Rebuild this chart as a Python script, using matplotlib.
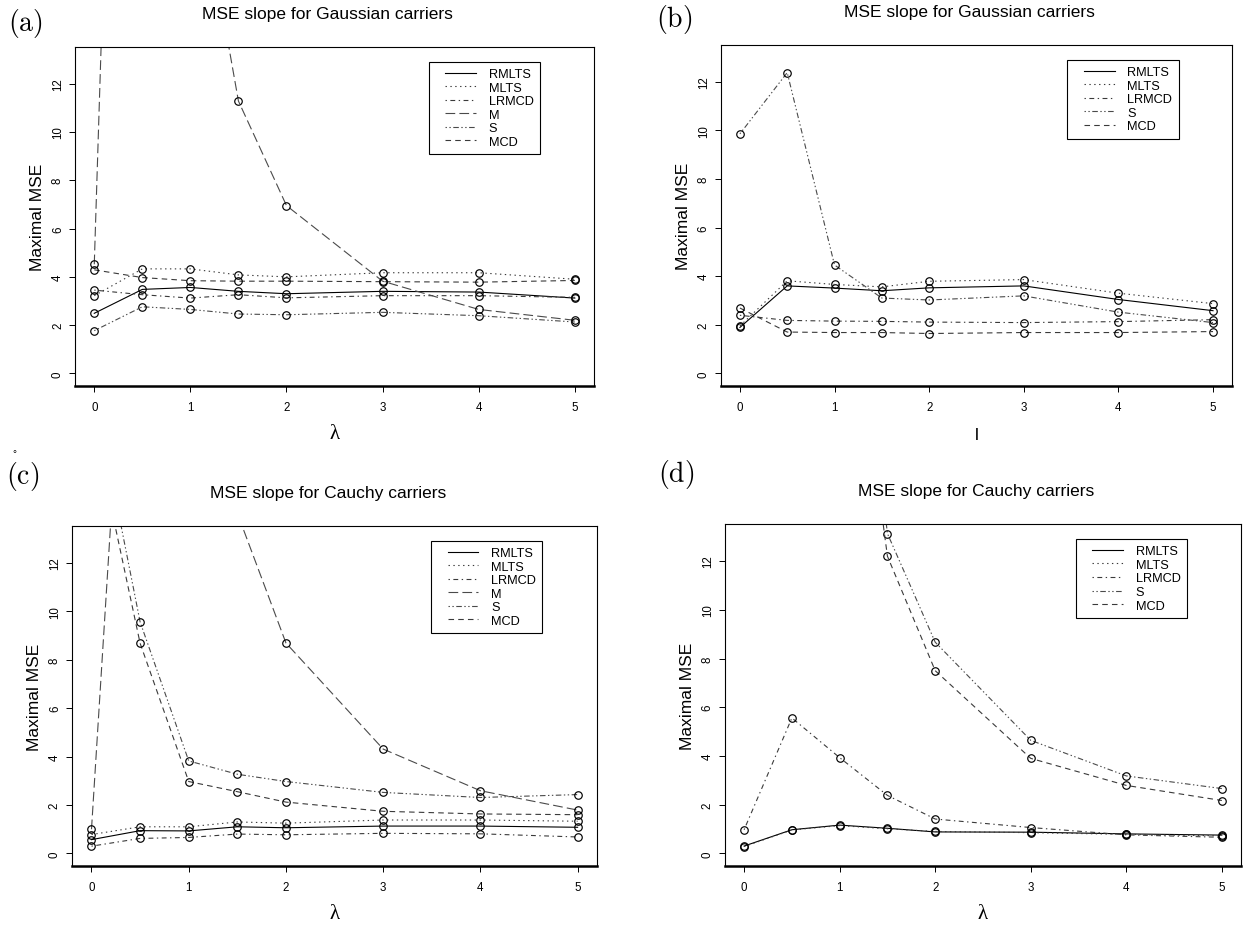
import matplotlib
matplotlib.use("Agg")
import matplotlib.pyplot as plt
from matplotlib.lines import Line2D
from matplotlib.legend_handler import HandlerLine2D

plt.rcParams['font.family'] = ['Liberation Sans', 'DejaVu Sans']
plt.rcParams['mathtext.fontset'] = 'cm'
plt.rcParams['lines.scale_dashes'] = False

# lambda grid shared by all panels
lam = [0, 0.5, 1, 1.5, 2, 3, 4, 5]

# (a) Gaussian carriers
a_rmlts = [2.49, 3.48, 3.56, 3.40, 3.30, 3.40, 3.37, 3.12]
a_mlts = [3.22, 4.33, 4.33, 4.08, 4.00, 4.17, 4.17, 3.90]
a_lrmcd = [3.45, 3.26, 3.12, 3.26, 3.13, 3.22, 3.22, 3.15]
a_m = [4.52, 68.0, 22.5, 11.28, 6.95, 3.82, 2.65, 2.20]
a_s = [1.77, 2.76, 2.65, 2.46, 2.43, 2.53, 2.39, 2.13]
a_mcd = [4.29, 3.97, 3.84, 3.82, 3.82, 3.80, 3.78, 3.85]

# (b) Gaussian carriers, no M
b_rmlts = [1.89, 3.60, 3.51, 3.40, 3.52, 3.60, 3.04, 2.58]
b_mlts = [1.95, 3.81, 3.66, 3.56, 3.79, 3.86, 3.30, 2.87]
b_lrmcd = [2.39, 2.18, 2.15, 2.14, 2.11, 2.09, 2.13, 2.21]
b_s = [9.86, 12.38, 4.46, 3.10, 3.02, 3.19, 2.52, 2.09]
b_mcd = [2.69, 1.70, 1.68, 1.68, 1.64, 1.68, 1.68, 1.72]

# (c) Cauchy carriers
c_rmlts = [0.57, 0.94, 0.93, 1.10, 1.06, 1.13, 1.13, 1.08]
c_mlts = [0.78, 1.10, 1.10, 1.30, 1.25, 1.38, 1.38, 1.33]
c_lrmcd = [0.30, 0.62, 0.66, 0.80, 0.77, 0.83, 0.81, 0.68]
c_m = [1.00, 33.0, 22.0, 14.05, 8.69, 4.31, 2.59, 1.79]
c_s = [19.7, 9.56, 3.82, 3.27, 2.97, 2.52, 2.31, 2.43]
c_mcd = [18.1, 8.68, 2.97, 2.55, 2.12, 1.74, 1.63, 1.60]

# (d) Cauchy carriers, no M
d_rmlts = [0.30, 0.97, 1.16, 1.03, 0.88, 0.87, 0.80, 0.75]
d_mlts = [0.28, 0.96, 1.14, 1.01, 0.90, 0.85, 0.78, 0.72]
d_lrmcd = [0.97, 5.56, 3.93, 2.38, 1.41, 1.06, 0.76, 0.66]
d_s = [45.0, 38.0, 30.0, 13.13, 8.67, 4.64, 3.18, 2.66]
d_mcd = [42.0, 35.0, 27.0, 12.20, 7.50, 3.90, 2.79, 2.17]

x_ticks = [0, 1, 2, 3, 4, 5]
y_ticks = [0, 2, 4, 6, 8, 10, 12]

# R-like line types
styles = {
    'RMLTS': ('-', 'black'),
    'MLTS': ((0, (1, 2.5)), '#3a3a3a'),
    'LRMCD': ((0, (1, 2.5, 3.5, 2.5)), '#3a3a3a'),
    'M': ((0, (7, 3)), '#4a4a4a'),
    'S': ((0, (1, 1.8, 1, 1.8, 4, 1.8)), '#4a4a4a'),
    'MCD': ((0, (4, 3)), '#3a3a3a'),
}


def draw_panel(ax, series, title, xlabel):
    for name, vals in series:
        ls, col = styles[name]
        ax.plot(lam, vals, linestyle=ls, color=col, linewidth=0.8)
        ax.plot(lam, vals, linestyle='none', marker='o', markersize=5.4,
                markerfacecolor='none', markeredgecolor='black',
                markeredgewidth=0.85)
    ax.set_xlim(-0.2, 5.2)
    ax.set_ylim(-0.52, 13.52)
    ax.set_xticks(x_ticks)
    ax.set_yticks(y_ticks)
    ax.tick_params(axis='both', direction='out', length=4, width=0.7,
                   labelsize=8.3)
    ax.tick_params(axis='x', pad=7)
    ax.tick_params(axis='y', pad=4, labelrotation=90)
    for lab in ax.get_yticklabels():
        lab.set_va('center')
    for sp in ax.spines.values():
        sp.set_linewidth(0.8)
    ax.spines['bottom'].set_linewidth(1.8)
    ax.set_title(title, fontsize=12.5, pad=21, x=0.487)
    ax.set_ylabel('Maximal MSE', fontsize=12.5, labelpad=5)
    if xlabel == 'l':
        ax.set_xlabel(xlabel, fontsize=12.5, labelpad=10)
    else:
        ax.set_xlabel(xlabel, fontsize=15, labelpad=8,
                      family=['Liberation Serif', 'DejaVu Serif'])

    handles = [Line2D([], [], linestyle=styles[n][0], color=styles[n][1],
                      linewidth=0.8) for n, _ in series]
    labels = [n for n, _ in series]
    leg = ax.legend(handles, labels, loc='upper right',
                    bbox_to_anchor=(0.908, 0.975), fontsize=9.2,
                    frameon=True, fancybox=False, framealpha=1,
                    edgecolor='black', handlelength=3.2, handletextpad=1.0,
                    labelspacing=0.12, borderpad=0.5,
                    handler_map={Line2D: HandlerLine2D(xpad=0.8)})
    leg.get_frame().set_linewidth(0.8)


fig = plt.figure(figsize=(12.53, 9.28), dpi=100)

ax_a = fig.add_axes([0.0599, 0.583, 0.4142, 0.3653])
ax_b = fig.add_axes([0.5754, 0.583, 0.4078, 0.3675])
ax_c = fig.add_axes([0.0575, 0.0657, 0.419, 0.3664])
ax_d = fig.add_axes([0.5786, 0.0657, 0.4118, 0.3685])

draw_panel(ax_a, [('RMLTS', a_rmlts), ('MLTS', a_mlts), ('LRMCD', a_lrmcd),
                  ('M', a_m), ('S', a_s), ('MCD', a_mcd)],
           'MSE slope for Gaussian carriers', 'λ')
draw_panel(ax_b, [('RMLTS', b_rmlts), ('MLTS', b_mlts), ('LRMCD', b_lrmcd),
                  ('S', b_s), ('MCD', b_mcd)],
           'MSE slope for Gaussian carriers', 'l')
draw_panel(ax_c, [('RMLTS', c_rmlts), ('MLTS', c_mlts), ('LRMCD', c_lrmcd),
                  ('M', c_m), ('S', c_s), ('MCD', c_mcd)],
           'MSE slope for Cauchy carriers', 'λ')
draw_panel(ax_d, [('RMLTS', d_rmlts), ('MLTS', d_mlts), ('LRMCD', d_lrmcd),
                  ('S', d_s), ('MCD', d_mcd)],
           'MSE slope for Cauchy carriers', 'λ')

# panel letters
fig.text(0.0064, 0.975, r'$\mathrm{(a)}$', fontsize=20, va='center')
fig.text(0.5235, 0.9795, r'$\mathrm{(b)}$', fontsize=20, va='center')
fig.text(0.0048, 0.487, r'$\mathrm{(c)}$', fontsize=20, va='center')
fig.text(0.5251, 0.489, r'$\mathrm{(d)}$', fontsize=20, va='center')
fig.text(0.0095, 0.511, '°', fontsize=7, va='center')

fig.savefig('out.png', dpi=100)
